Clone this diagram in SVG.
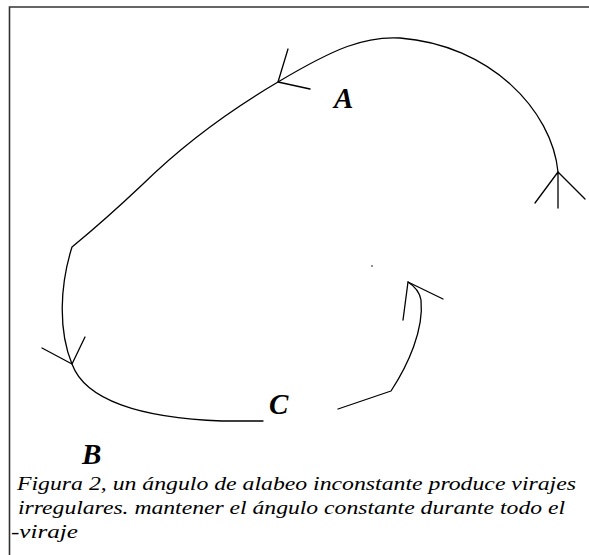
<svg xmlns="http://www.w3.org/2000/svg" width="589" height="555" viewBox="0 0 589 555">
  <style>
    .ln { fill: none; stroke: #000; stroke-width: 1.3; stroke-linecap: round; stroke-linejoin: round; }
    .lbl { font-family: "Liberation Serif", "Times New Roman", serif; font-style: italic; font-weight: bold; font-size: 29px; fill: #000; }
    .cap { font-family: "Liberation Serif", "Times New Roman", serif; font-style: italic; font-size: 19px; fill: #000; }
  </style>
  <rect x="0" y="0" width="589" height="555" fill="#fff"/>
  <path d="M9.5,556 V7 H590" fill="none" stroke="#333" stroke-width="1.6"/>

  <g id="connectors">
    <path class="ln" d="M558,172 C552,110 490,45 400,38 C365,36 335,48 278,82 Q200,128 143,184 Q105,220 72,247 C60,285 58,330 72,364 C85,400 140,418 222,421 L263,421"/>
    <path class="ln" d="M338,409 L391,391 C408,365 424,330 421,300 Q419,289 408,282"/>
    <path class="ln" d="M288,49 L278,82 L310,89"/>
    <path class="ln" d="M535,203 L558,172 L585,199 M558,172 L558,208"/>
    <path class="ln" d="M42,348 L72,364 L85,337"/>
    <path class="ln" d="M403,320 L408,282 L443,299"/>
    <circle cx="372" cy="266" r="0.8" fill="#000"/>
  </g>

  <g id="node-A"><text class="lbl" x="334" y="108">A</text></g>
  <g id="node-B"><text class="lbl" x="82" y="464">B</text></g>
  <g id="node-C"><text class="lbl" x="269" y="414">C</text></g>

  <g id="caption">
    <text class="cap" x="17" y="490" textLength="559" lengthAdjust="spacingAndGlyphs">Figura 2, un ángulo de alabeo inconstante produce virajes</text>
    <text class="cap" x="18" y="514" textLength="547" lengthAdjust="spacingAndGlyphs">irregulares. mantener el ángulo constante durante todo el</text>
    <text class="cap" x="11" y="538" textLength="67" lengthAdjust="spacingAndGlyphs">-viraje</text>
  </g>
</svg>
